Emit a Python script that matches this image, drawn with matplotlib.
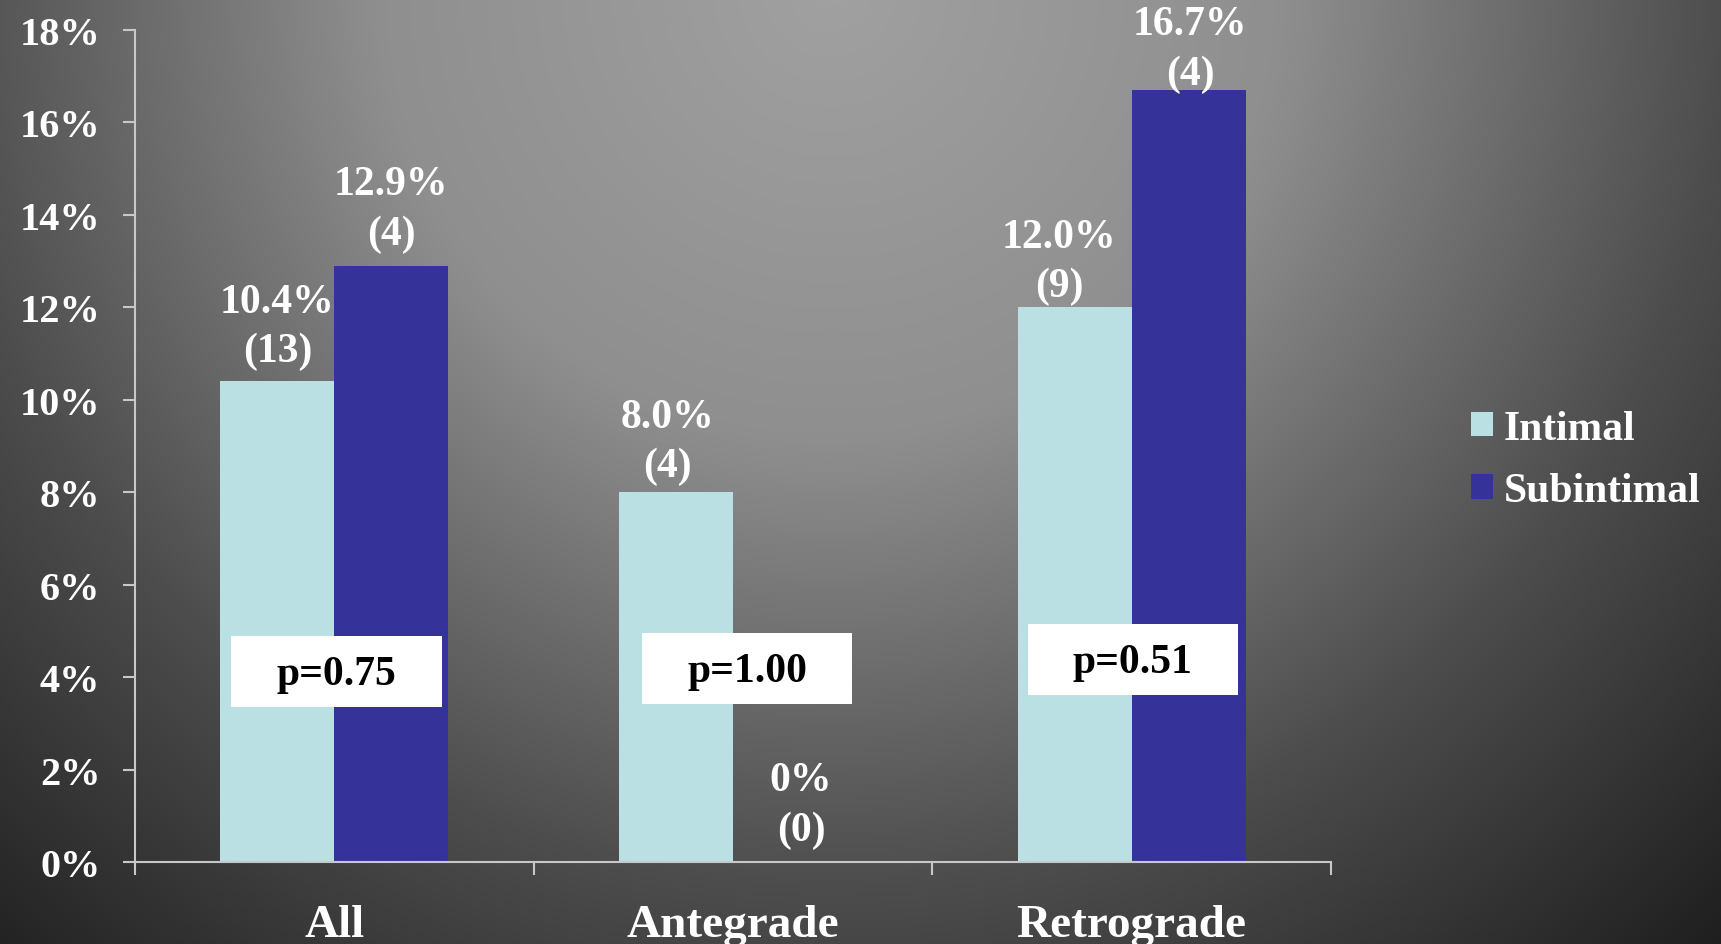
import numpy as np
import matplotlib
matplotlib.use("Agg")
import matplotlib.pyplot as plt
from matplotlib.patches import Rectangle

categories = ["All", "Antegrade", "Retrograde"]
series_names = ["Intimal", "Subintimal"]
intimal = [10.4, 8.0, 12.0]
subintimal = [12.9, 0.0, 16.7]
intimal_n = [13, 4, 9]
subintimal_n = [4, 0, 4]
p_values = ["p=0.75", "p=1.00", "p=0.51"]
yticks = [0, 2, 4, 6, 8, 10, 12, 14, 16, 18]

col_int = "#BAE0E3"
col_sub = "#353399"
axis_col = "#C8C8C8"

plt.rcParams["font.family"] = ["Liberation Serif", "DejaVu Serif"]
plt.rcParams["font.weight"] = "bold"

W, H = 1721, 945
fig = plt.figure(figsize=(W / 100, H / 100), dpi=100)

# radial gradient background
bg = fig.add_axes([0, 0, 1, 1], zorder=-10)
yy, xx = np.mgrid[0:H, 0:W]
R = np.sqrt(((xx - 830) / 900.0) ** 2 + ((yy + 10) / 900.0) ** 2)
v = 0.63 - np.interp(R, [0, 0.5, 1.0, 1.45, 2.0], [0, 0.07, 0.33, 0.51, 0.56])
img = np.dstack([v, v, v])
bg.imshow(img, aspect="auto", extent=[0, 1, 0, 1], origin="upper")
bg.axis("off")

ax = fig.add_axes([135 / W, 1 - 863 / H, (1331 - 135) / W, (863 - 31) / H])
ax.set_facecolor("none")

x = np.arange(len(categories))
bw = 0.286
b1 = ax.bar(x - bw / 2, intimal, bw, color=col_int, label=series_names[0], zorder=2)
b2 = ax.bar(x + bw / 2, subintimal, bw, color=col_sub, label=series_names[1], zorder=2)

fs = 30
# label nudges (points), layout only
int_dx = [0, -6, -11]
int_dy = [8, 5, 1.5]
sub_dx = [0, 8, 1]
sub_dy = [9.5, 9.5, -2]
for xi, val, n, dx, dy in zip(x - bw / 2, intimal, intimal_n, int_dx, int_dy):
    ax.annotate(f"{val:.1f}%\n({n})", (xi, val), xytext=(dx, dy), textcoords="offset points",
                ha="center", va="bottom", color="white", fontsize=fs, fontweight="bold",
                linespacing=1.38, zorder=5)
for xi, val, n, dx, dy in zip(x + bw / 2, subintimal, subintimal_n, sub_dx, sub_dy):
    lab = f"{val:.1f}%" if val > 0 else "0%"
    ax.annotate(f"{lab}\n({n})", (xi, val), xytext=(dx, dy),
                textcoords="offset points", ha="center", va="bottom", color="white",
                fontsize=fs, fontweight="bold", linespacing=1.38, zorder=5, annotation_clip=False)

# p-value boxes (layout positions)
box_x0 = [-0.258, 0.772, 1.739]
box_y0 = [3.35, 3.42, 3.61]
box_w = 0.527
box_h = 1.53
for bx, by, ptxt in zip(box_x0, box_y0, p_values):
    ax.add_patch(Rectangle((bx, by), box_w, box_h, facecolor="white", edgecolor="none", zorder=6))
    ax.text(bx + box_w / 2, by + box_h / 2 - 0.05, ptxt, ha="center", va="center", color="black",
            fontsize=fs, fontweight="bold", zorder=7)

ax.set_xlim(-0.5, 2.5)
ax.set_ylim(0, 18)
ax.set_yticks(yticks)
ax.set_yticklabels([f"{t}%" for t in yticks])
ax.set_xticks([-0.5, 0.5, 1.5, 2.5])
ax.set_xticklabels([])
ax.set_xticks(x, minor=True)
ax.set_xticklabels(categories, minor=True)

for s in ["top", "right"]:
    ax.spines[s].set_visible(False)
for s in ["left", "bottom"]:
    ax.spines[s].set_color(axis_col)
    ax.spines[s].set_linewidth(1.5)
ax.tick_params(axis="y", colors=axis_col, length=9, width=1.5, pad=16, labelsize=29,
               labelcolor="white")
ax.tick_params(axis="x", which="major", colors=axis_col, length=9, width=1.5, direction="out")
ax.tick_params(axis="x", which="minor", length=0, pad=30, labelsize=34, labelcolor="white")
for t in ax.get_yticklabels() + ax.get_xticklabels(minor=True):
    t.set_fontweight("bold")

fig.legend(handles=[b1, b2], labels=series_names, loc="center left",
           bbox_to_anchor=(1471 / W, 1 - 461 / H), frameon=False, borderpad=0,
           borderaxespad=0, handlelength=0.53, handleheight=0.53, handletextpad=0.25,
           labelspacing=0.58, fontsize=fs, labelcolor="white",
           prop={"weight": "bold", "size": fs})

fig.savefig("out.png", dpi=100)
